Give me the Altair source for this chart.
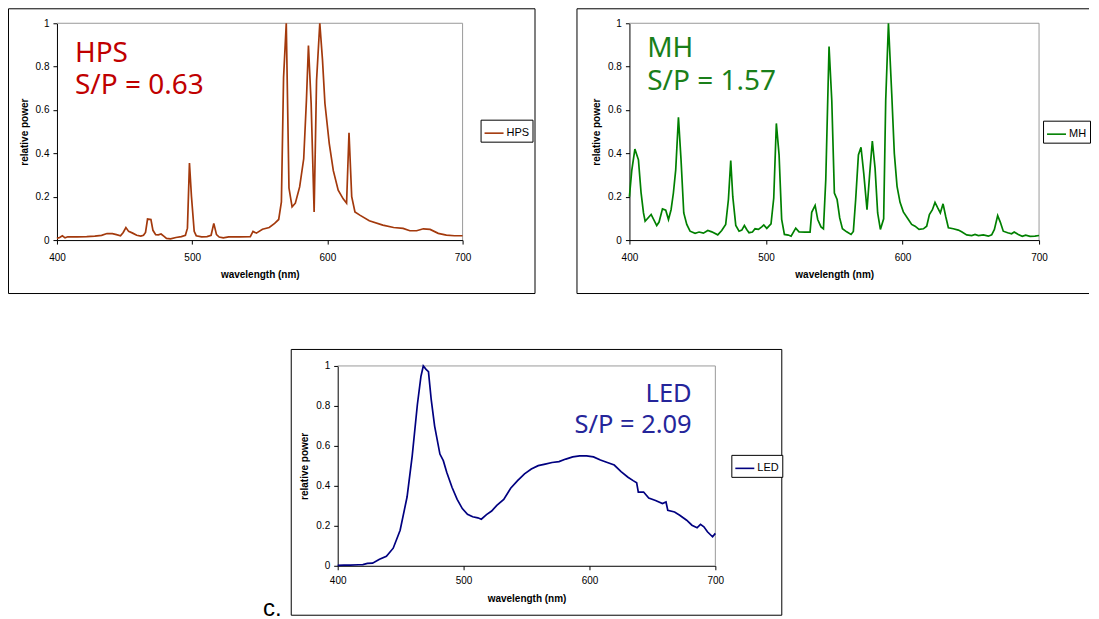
import altair as alt
import pandas as pd

# ---------------- data ----------------
X_TICKS = [400, 500, 600, 700]
Y_TICKS = [0, 0.2, 0.4, 0.6, 0.8, 1]

hps_nm = [400, 402, 404, 406, 408, 415, 422, 428, 433, 437, 441, 444, 447, 449, 451, 453, 456,
          459, 462, 464, 465.5, 467, 469.5, 471, 473, 475, 477, 479, 481, 484, 488, 492, 495,
          496.5, 498, 499.5, 501.5, 503, 507, 511, 514, 516, 518, 520, 523, 527, 535, 543, 545,
          547.5, 552, 557, 561, 564, 566, 567.6, 569.6, 571.6, 573.9, 576.3, 579.5, 582.5,
          584.5, 586, 588, 590.2, 592, 594.4, 596.4, 598.2, 601.4, 604.4, 608, 611.7, 614.2,
          616, 618, 620.4, 624, 631, 641, 649, 656, 661, 666, 671, 676, 682, 688, 694, 700]
hps_val = [0.008, 0.012, 0.02, 0.01, 0.015, 0.015, 0.016, 0.018, 0.022, 0.03, 0.03, 0.025,
           0.02, 0.035, 0.058, 0.04, 0.032, 0.022, 0.018, 0.022, 0.035, 0.097, 0.095, 0.045,
           0.025, 0.024, 0.028, 0.018, 0.008, 0.006, 0.012, 0.016, 0.022, 0.055, 0.355, 0.2,
           0.04, 0.02, 0.015, 0.016, 0.022, 0.077, 0.025, 0.014, 0.01, 0.015, 0.015, 0.016,
           0.04, 0.032, 0.05, 0.058, 0.077, 0.095, 0.176, 0.75, 1.0, 0.24, 0.153, 0.17, 0.245,
           0.375, 0.644, 0.897, 0.63, 0.13, 0.736, 1.0, 0.83, 0.63, 0.445, 0.32, 0.23, 0.19,
           0.17, 0.495, 0.2, 0.13, 0.115, 0.089, 0.069, 0.058, 0.054, 0.043, 0.043, 0.052,
           0.049, 0.031, 0.023, 0.02, 0.02]

mh_nm = [400, 401.7, 404, 406.6, 408.5, 410.3, 411.5, 415.9, 420, 421.7, 424.2, 426.6, 428.6,
         430.5, 432.2, 433.9, 435.9, 437.8, 439.8, 442, 444.4, 448.1, 451, 454.2, 457.4, 460.3,
         464.7, 467.6, 470.5, 472.5, 474.2, 475.7, 477.9, 480.3, 482.3, 484.2, 485.9, 487.6,
         490.1, 492, 494.5, 496.9, 498.4, 500.6, 503.7, 505.7, 507.6, 509.6, 511.5, 513.5,
         516.4, 518.4, 521.8, 524.2, 528.6, 532.3, 533.5, 536, 537.9, 540.3, 542.1, 543.8,
         546.2, 548.2, 550.1, 552.1, 554, 556, 559.1, 562.3, 564, 565.7, 567.7, 569.6, 571.6,
         574, 576, 577.9, 579.9, 581.8, 583.8, 586.2, 587.7, 589.7, 592.1, 594, 596, 598.2,
         600.6, 604.3, 606.7, 609.2, 612.1, 615.3, 617.7, 619.7, 621.9, 623.8, 625.8, 627.7,
         629.7, 631.6, 633.6, 637.2, 640.9, 643.3, 647, 650.7, 653.1, 655.6, 659.2, 662.9,
         665.3, 667.3, 669.7, 671.6, 673.8, 677, 679.9, 681.8, 684.8, 687.7, 690.2, 693.4,
         697, 700]
mh_val = [0.2, 0.32, 0.42, 0.37, 0.22, 0.125, 0.087, 0.118, 0.067, 0.083, 0.144, 0.138, 0.095,
          0.14, 0.217, 0.324, 0.566, 0.37, 0.125, 0.072, 0.041, 0.031, 0.037, 0.032, 0.044,
          0.038, 0.024, 0.044, 0.072, 0.187, 0.367, 0.2, 0.067, 0.041, 0.046, 0.067, 0.049,
          0.034, 0.037, 0.052, 0.049, 0.061, 0.07, 0.054, 0.075, 0.194, 0.538, 0.393, 0.095,
          0.026, 0.023, 0.018, 0.055, 0.038, 0.037, 0.037, 0.128, 0.16, 0.095, 0.061, 0.052,
          0.278, 0.893, 0.645, 0.217, 0.187, 0.102, 0.052, 0.038, 0.026, 0.04, 0.187, 0.393,
          0.428, 0.309, 0.14, 0.309, 0.457, 0.332, 0.125, 0.049, 0.098, 0.645, 1.0, 0.676, 0.4,
          0.248, 0.174, 0.13, 0.095, 0.072, 0.064, 0.049, 0.052, 0.064, 0.118, 0.14, 0.174,
          0.148, 0.125, 0.167, 0.11, 0.057, 0.052, 0.046, 0.038, 0.024, 0.021, 0.026, 0.021,
          0.024, 0.018, 0.024, 0.049, 0.113, 0.083, 0.041, 0.034, 0.029, 0.037, 0.026, 0.017,
          0.023, 0.017, 0.018, 0.021]

led_nm = [400, 405, 410, 416.7, 420, 423.6, 427.7, 433.2, 438.7, 444.1, 449.6, 455.1, 459.2,
          463.3, 466.1, 468, 470.2, 472.1, 474.3, 477, 481.2, 483.9, 486.6, 490.8, 494.9, 499,
          503.1, 507.2, 511.3, 514.1, 518.2, 522.3, 526.4, 531.9, 537.4, 542.9, 548.4, 553.8,
          559.3, 564.8, 570.3, 575.8, 581.2, 586.7, 592.2, 597.7, 603.2, 608.7, 614.2, 619.7,
          625.1, 630.6, 634.7, 637.5, 638.8, 643, 647.1, 652.5, 658, 660.8, 662.2, 667.6,
          671.7, 677.2, 681.4, 685.5, 688.2, 690.9, 693.7, 697.8, 700]
led_val = [0.002, 0.003, 0.003, 0.005, 0.006, 0.012, 0.013, 0.033, 0.048, 0.088, 0.178, 0.344,
           0.55, 0.807, 0.947, 1.0, 0.983, 0.972, 0.831, 0.699, 0.559, 0.526, 0.468, 0.393,
           0.332, 0.286, 0.258, 0.245, 0.24, 0.233, 0.256, 0.274, 0.302, 0.332, 0.388, 0.426,
           0.46, 0.484, 0.501, 0.509, 0.517, 0.521, 0.534, 0.545, 0.55, 0.55, 0.545, 0.529,
           0.517, 0.504, 0.471, 0.443, 0.426, 0.415, 0.369, 0.369, 0.339, 0.327, 0.311, 0.319,
           0.278, 0.269, 0.253, 0.228, 0.203, 0.19, 0.207, 0.195, 0.17, 0.145, 0.162]

# annotation text lines
hps_note = ["HPS", "S/P = 0.63"]
mh_note = ["MH", "S/P = 1.57"]
led_note = ["LED", "S/P = 2.09"]
panel_tag = ["c."]

LABEL_FONT = "Liberation Sans"
NOTE_FONT = "Noto Sans"
ONE = pd.DataFrame({"k": [0]})


def frame_layers(frame, open_right):
    fx0, fx1, fy0, fy1 = frame
    if not open_right:
        return [alt.Chart(ONE).mark_rect(fill="white", fillOpacity=0, stroke="black",
                                         strokeWidth=1).encode(
            x=alt.value(fx0), x2=alt.value(fx1), y=alt.value(fy0), y2=alt.value(fy1))]
    rule = lambda: alt.Chart(ONE).mark_rule(color="black", strokeWidth=1)
    return [
        rule().encode(x=alt.value(fx0), x2=alt.value(fx1), y=alt.value(fy0)),
        rule().encode(x=alt.value(fx0), x2=alt.value(fx1), y=alt.value(fy1)),
        rule().encode(x=alt.value(fx0), y=alt.value(fy0), y2=alt.value(fy1)),
    ]


def panel(nm, val, name, line_color, note, note_color, note_size, note_x, note_y,
          note_lh, note_align, w, h, frame, legend_xy, open_right=False, xpad=(8, 7)):
    df = pd.DataFrame({"wavelength": nm, "power": val, "series": [name] * len(nm)})
    xs = alt.Scale(domain=[400, 700], nice=False, zero=False)
    ys = alt.Scale(domain=[0, 1], nice=False)
    common = dict(grid=False, tickSize=4, tickColor="black", domainColor="black",
                  labelColor="black", labelFont=LABEL_FONT, labelFontSize=10,
                  titleFont=LABEL_FONT, titleFontSize=10, titleFontWeight="bold",
                  titleColor="black", labelFlush=False)
    xax = alt.Axis(values=X_TICKS, format="d", title="wavelength (nm)", labelPadding=xpad[0],
                   titlePadding=xpad[1], **common)
    yax = alt.Axis(values=Y_TICKS, format="~g", title="relative power", labelPadding=4,
                   titlePadding=6, **common)
    X = lambda: alt.X("wavelength:Q", scale=xs, axis=xax)
    Y = lambda: alt.Y("power:Q", scale=ys, axis=yax)

    top_df = pd.DataFrame({"wavelength": [400], "wl2": [700], "power": [1]})
    top_rule = alt.Chart(top_df).mark_rule(color="#9a9a9a", strokeWidth=1).encode(
        x=X(), x2="wl2:Q", y=Y())
    right_df = pd.DataFrame({"wavelength": [700], "power": [0], "p2": [1]})
    right_rule = alt.Chart(right_df).mark_rule(color="#9a9a9a", strokeWidth=1).encode(
        x=X(), y=Y(), y2="p2:Q")

    line = alt.Chart(df).mark_line(strokeWidth=1.7).encode(
        x=X(), y=Y(),
        color=alt.Color("series:N", scale=alt.Scale(domain=[name], range=[line_color]),
                        legend=alt.Legend(title=None, orient="none",
                                          legendX=legend_xy[0], legendY=legend_xy[1],
                                          strokeColor="black", fillColor="white",
                                          padding=3, symbolType="stroke", symbolSize=361,
                                          symbolStrokeWidth=1.6, labelFont=LABEL_FONT,
                                          labelFontSize=11, labelColor="black",
                                          labelOffset=2, cornerRadius=0)))

    # two-line annotation as a single multi-line text item
    note_df = pd.DataFrame({"wavelength": [note_x], "power": [note_y], "label": [list(note)]})
    text = alt.Chart(note_df).mark_text(
        align=note_align, baseline="alphabetic", font=NOTE_FONT, fontSize=note_size,
        lineHeight=note_lh, color=note_color).encode(x=X(), y=Y(), text="label:N")

    layers = frame_layers(frame, open_right) + [top_rule, right_rule, line, text]
    return alt.layer(*layers).properties(width=w, height=h)


hps = panel(hps_nm, hps_val, "HPS", "#a3390c", hps_note, "#c00000", 28, 413.3,
            0.82, 31.5, "left", 406, 217, (-48.5, 478.5, -14.5, 270.5), (424, 96.5))
mh = panel(mh_nm, mh_val, "MH", "#008000", mh_note, "#1a7f1a", 28, 413.0,
           0.845, 33, "left", 410, 217, (-52.5, 460, -14.5, 270.5), (414, 97.5),
           open_right=True)
led = panel(led_nm, led_val, "LED", "#000080", led_note, "#25259a", 25.5, 681.2,
            0.821, 31, "right", 378, 200, (-46.5, 444.5, -16.5, 249.5), (394, 89),
            xpad=(6, 8))

spacer = alt.Chart(pd.DataFrame({"t": panel_tag})).mark_text(
    align="right", baseline="alphabetic", font=LABEL_FONT, fontSize=24, color="black"
).encode(x=alt.value(225), y=alt.value(250), text="t:N").properties(
    width=234, height=10, view=alt.ViewBackground(stroke=None))

top_row = alt.hconcat(hps, mh, spacing=41).resolve_scale(color="independent").resolve_legend(
    color="independent")
bottom_row = alt.hconcat(spacer, led, spacing=0).resolve_scale(
    color="independent").resolve_legend(color="independent")

chart = alt.vconcat(top_row, bottom_row, spacing=55).resolve_scale(
    color="independent").resolve_legend(color="independent").properties(
    padding=0, background="white").configure_view(stroke=None)

chart.save("out.html", embed_options={"renderer": "svg", "actions": False})
